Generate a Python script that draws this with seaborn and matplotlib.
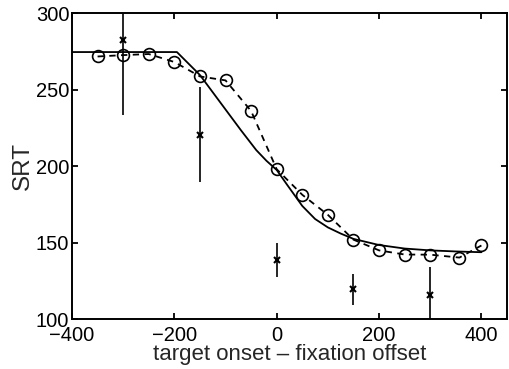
import numpy as np
import matplotlib
matplotlib.use("Agg")
import matplotlib.pyplot as plt
import seaborn as sns

sns.set_style("ticks")
plt.rcParams['font.family'] = ['Liberation Sans', 'DejaVu Sans']

# measured SRT (circles, dashed)
circ_x = [-350, -300, -250, -200, -150, -100, -50, 0, 50, 100, 150, 200, 250, 300, 357, 400]
circ_y = [271.6, 272.5, 273.2, 268.0, 258.6, 256.0, 236.0, 198.0, 181.3, 168.2, 152.0,
          145.0, 142.3, 142.2, 140.3, 148.2]

# model fit (solid)
fit_x = [-400, -195, -150, -110, -70, -40, -20, 0, 20, 50, 75, 100, 125, 150, 200, 250, 300, 350, 400]
fit_y = [274.5, 274.5, 259.5, 241.5, 223.5, 210.5, 203.5, 197.5, 188.0, 174.0, 165.5, 160.0,
         156.0, 152.5, 148.5, 146.2, 145.0, 144.3, 143.8]

# second data set with error bars
err_x = [-300, -150, 0, 150, 300]
err_y = [282.5, 220.5, 138.8, 119.6, 115.9]
err_e = [49.0, 31.0, 11.0, 10.2, 18.0]

fig = plt.figure(figsize=(5.09, 3.69), dpi=100)
ax = fig.add_axes([72 / 509, 1 - 319.3 / 369, (507 - 72) / 509, (319.3 - 13) / 369])

sns.lineplot(x=fit_x, y=fit_y, ax=ax, color='k', lw=1.3, sort=False, estimator=None)
sns.lineplot(x=circ_x, y=circ_y, ax=ax, color='k', lw=1.3, sort=False, estimator=None,
             marker='o', ms=8.5, mfc='none', mec='k', mew=1.2,
             linestyle=(0, (3.5, 3)))
ax.errorbar(err_x, err_y, yerr=err_e, fmt='x', color='k', ms=4, mew=1.5,
            elinewidth=1.2, capsize=0)

ax.set_xlim(-400, 450)
ax.set_ylim(100, 300)
ax.set_xticks([-400, -200, 0, 200, 400])
ax.set_yticks([100, 150, 200, 250, 300])
ax.tick_params(direction='in', length=4, width=1.3, top=True, right=True,
               labelsize=14.5, colors='k')
ax.tick_params(axis='x', pad=4.5)
ax.tick_params(axis='y', pad=2)
for s in ax.spines.values():
    s.set_linewidth(1.4)
    s.set_color('k')

ax.set_xlabel('target onset \u2013 fixation offset', fontsize=16, labelpad=-0.5)
ax.set_ylabel('SRT', fontsize=17.5, labelpad=1)

fig.savefig('out.png', dpi=100)
